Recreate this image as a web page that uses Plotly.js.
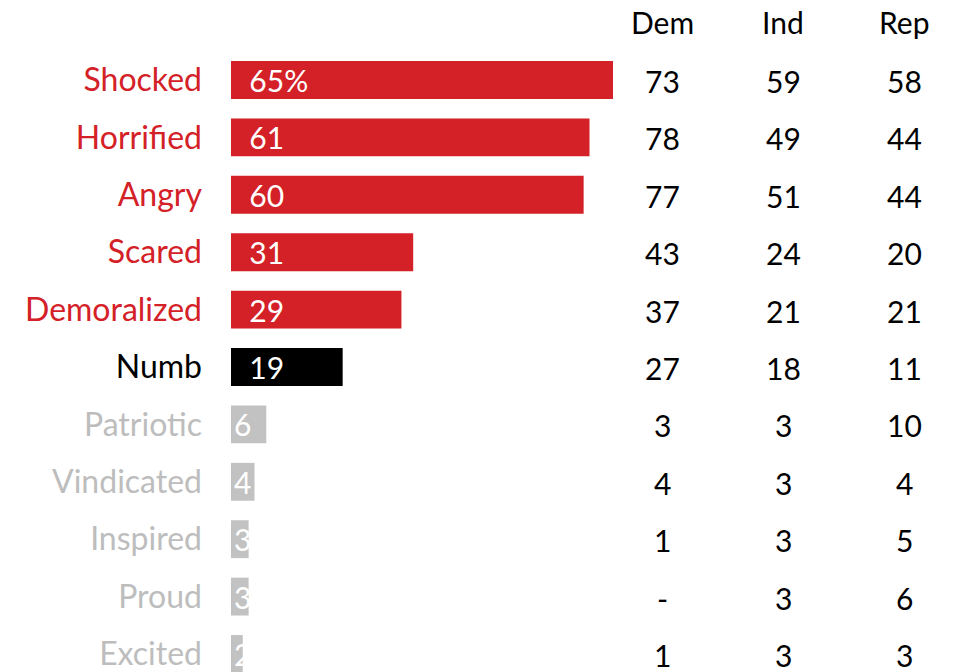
<!DOCTYPE html>
<html><head><meta charset="utf-8">
<script src="https://cdn.plot.ly/plotly-3.0.1.min.js"></script>
<style>html,body{margin:0;padding:0;background:#fff}</style>
</head><body><div id="chart" style="width:956px;height:672px"></div>
<script>
const emotions = ["Shocked","Horrified","Angry","Scared","Demoralized","Numb","Patriotic","Vindicated","Inspired","Proud","Excited"];
const totals = [65,61,60,31,29,19,6,4,3,3,2];
const barLabels = ["65%","61","60","31","29","19","6","4","3","3","2"];
const dem = ["73","78","77","43","37","27","3","4","1","-","1"];
const ind = ["59","49","51","24","21","18","3","3","3","3","3"];
const rep = ["58","44","44","20","21","11","10","4","5","6","3"];
const groups = ["Dem","Ind","Rep"];
const groupCols = [dem, ind, rep];

const RED = "#d42027", BLACK = "#000000", GREY = "#c2c2c2";
const colorFor = i => i < 5 ? RED : (i === 5 ? BLACK : GREY);
const barColors = emotions.map((_, i) => colorFor(i));
const labelColors = emotions.map((_, i) => i < 5 ? RED : (i === 5 ? BLACK : "#bdbdbd"));
const FONT = "Lato, 'Noto Sans', sans-serif";

const shownText = barLabels.map((t, i) => totals[i] >= 10 ? "\u00a0\u00a0" + t : t);

const trace = {
  type: "bar", orientation: "h",
  y: emotions.map((_, i) => i), x: totals,
  marker: {color: barColors, line: {width: 0}},
  text: shownText, textposition: "inside", insidetextanchor: "start",
  textfont: {color: "#ffffff", size: 30, family: FONT},
  constraintext: "none", cliponaxis: false,
  hoverinfo: "skip", width: 0.66
};

const colX = [0.5945, 0.7614, 0.9283];
const annotations = [];
groups.forEach((g, j) => {
  annotations.push({xref: "paper", yref: "paper", x: colX[j], xanchor: "center", y: 1, yshift: 18, yanchor: "middle",
    text: g, showarrow: false, font: {size: 30, color: "#000", family: FONT}});
  groupCols[j].forEach((v, i) => {
    annotations.push({xref: "paper", yref: "y", x: colX[j], xanchor: "center", y: i, yanchor: "middle", yshift: -1,
      text: v, showarrow: false, font: {size: 30, color: "#000", family: FONT}});
  });
});

const layout = {
  width: 956, height: 672,
  margin: {l: 231, r: 0, t: 40, b: 0, pad: 0},
  paper_bgcolor: "#fff", plot_bgcolor: "#fff",
  showlegend: false,
  uniformtext: {mode: "show", minsize: 30},
  xaxis: {range: [0, 123.36], showgrid: false, zeroline: false, showticklabels: false, ticks: "", fixedrange: true},
  yaxis: {range: [10.314, -0.697], tickmode: "array", tickvals: emotions.map((_, i) => i),
    ticktext: emotions.map((e, i) => `<span style="color:${labelColors[i]}">${e}</span>`),
    tickfont: {size: 32, family: FONT}, ticks: "", ticklabelstandoff: 28,
    ticklabeloverflow: "allow",
    showgrid: false, zeroline: false, showline: false, fixedrange: true},
  annotations: annotations
};

Plotly.newPlot("chart", [trace], layout, {displayModeBar: false, staticPlot: true});
</script></body></html>
